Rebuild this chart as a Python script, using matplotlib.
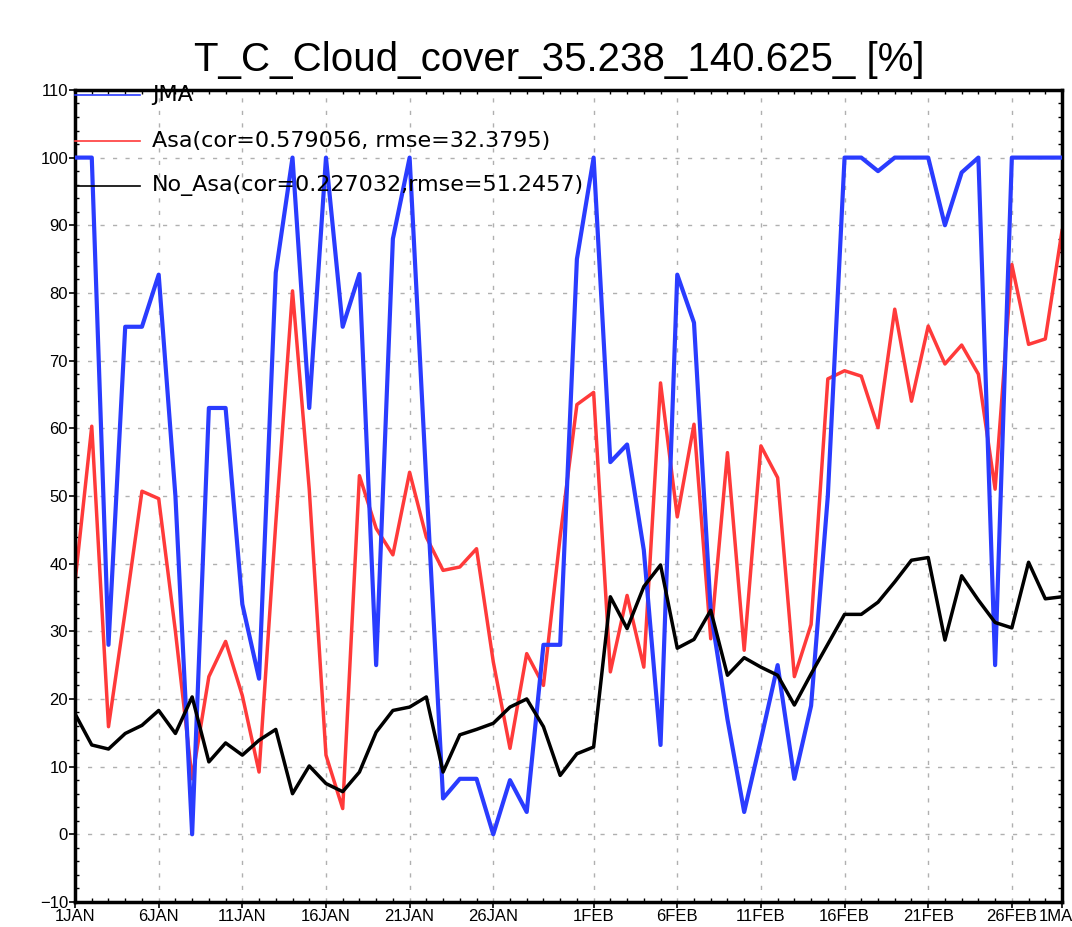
import matplotlib
matplotlib.use("Agg")
import matplotlib.pyplot as plt
from matplotlib.ticker import MultipleLocator, FixedLocator

# daily values, 1 Jan .. 1 Mar
jma = [100, 100, 28, 75, 75, 82.7, 50, 0, 63, 63,
       34, 23, 83, 100, 63, 100, 75, 82.8, 25, 88,
       100, 52, 5.3, 8.2, 8.2, 0, 8, 3.3, 28, 28,
       85, 100, 55, 57.6, 42, 13.2, 82.7, 75.6, 33, 17,
       3.3, 14, 25, 8.2, 19, 50, 100, 100, 98, 100,
       100, 100, 90, 97.8, 100, 25, 100, 100, 100, 100]
asa = [37.3, 60.3, 15.9, 33, 50.7, 49.6, 30, 8.2, 23.3, 28.5,
       20.5, 9.2, 46, 80.3, 51, 11.7, 3.8, 53, 45.2, 41.3,
       53.5, 43.9, 39, 39.5, 42.2, 25.5, 12.7, 26.7, 22, 44,
       63.5, 65.3, 24, 35.3, 24.7, 66.7, 46.9, 60.6, 28.9, 56.4,
       27.2, 57.4, 52.7, 23.3, 31, 67.3, 68.5, 67.7, 60.1, 77.6,
       64, 75.1, 69.5, 72.3, 68, 51, 84.2, 72.4, 73.2, 89.2]
no_asa = [17.8, 13.2, 12.6, 14.9, 16.1, 18.3, 14.9, 20.3, 10.7, 13.5,
          11.7, 13.9, 15.5, 6, 10.1, 7.5, 6.3, 9.2, 15.1, 18.3,
          18.8, 20.3, 9.2, 14.7, 15.5, 16.4, 18.8, 20, 15.9, 8.7,
          11.9, 12.9, 35.1, 30.4, 36.6, 39.8, 27.5, 28.8, 33.1, 23.5,
          26.1, 24.7, 23.5, 19.1, 23.7, 28.1, 32.5, 32.5, 34.3, 37.3,
          40.5, 40.9, 28.7, 38.2, 34.6, 31.3, 30.5, 40.2, 34.8, 35.1]
days = list(range(len(jma)))

tick_days = [0, 5, 10, 15, 20, 25, 31, 36, 41, 46, 51, 56, 59]
tick_labels = ["1JAN", "6JAN", "11JAN", "16JAN", "21JAN", "26JAN", "1FEB",
               "6FEB", "11FEB", "16FEB", "21FEB", "26FEB", "1MAR"]
legend_labels = ["JMA", "Asa(cor=0.579056, rmse=32.3795)",
                 "No_Asa(cor=0.227032,rmse=51.2457)"]

plt.rcParams['font.family'] = ['Liberation Sans', 'DejaVu Sans']

fig = plt.figure(figsize=(10.72, 9.27), dpi=100)
ax = fig.add_axes([0.070, 0.027, 0.9207, 0.876])

blue = "#2a3cff"
red = "#ff3a3a"
ax.plot(days, jma, color=blue, lw=3, zorder=3)
ax.plot(days, asa, color=red, lw=2.5, zorder=2)
ax.plot(days, no_asa, color="black", lw=2.5, zorder=4)

ax.set_xlim(0, 59)
ax.set_ylim(-10, 110)
ax.xaxis.set_major_locator(FixedLocator(tick_days))
ax.set_xticklabels(tick_labels)
ax.xaxis.set_minor_locator(MultipleLocator(1))
ax.yaxis.set_major_locator(MultipleLocator(10))
ax.yaxis.set_minor_locator(MultipleLocator(2))
ax.tick_params(which="major", direction="out", length=4, width=1.2, labelsize=12, pad=1)
ax.tick_params(which="minor", direction="in", length=3, width=1, top=True, right=True)
ax.grid(True, which="major", color="#b0b0b0", lw=1, linestyle=(0, (3, 6)))
for s in ax.spines.values():
    s.set_linewidth(2.5)

# legend drawn GrADS style, inside the top-left corner
leg_y = [0.994, 0.937, 0.882]
for y, c, lab in zip(leg_y, [blue, red, "black"], legend_labels):
    ax.plot([0, 0.066], [y, y], color=c, lw=1.2, transform=ax.transAxes,
            clip_on=False, zorder=5)
    ax.text(0.078, y, lab, transform=ax.transAxes, fontsize=16,
            family="DejaVu Sans", va="center", ha="left", zorder=6)

fig.text(0.522, 0.935, "T_C_Cloud_cover_35.238_140.625_ [%]",
         fontsize=29, ha="center", va="center")

fig.savefig("out.png", dpi=100)
